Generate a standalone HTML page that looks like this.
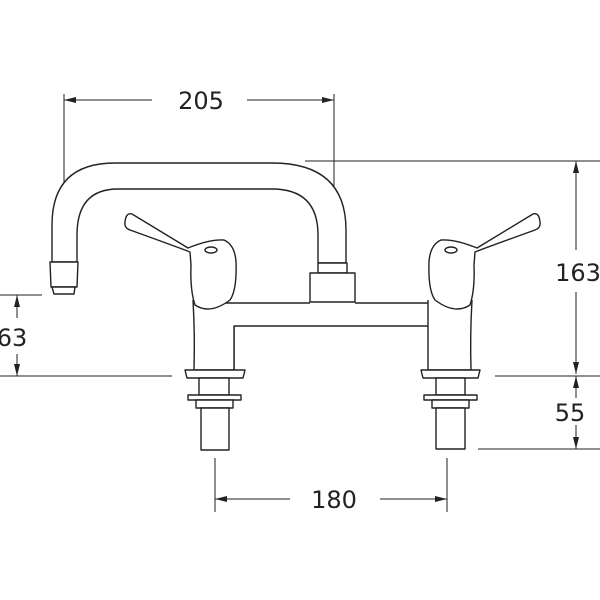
<!DOCTYPE html>
<html><head><style>body{margin:0;background:#fff}svg{display:block}text{font-family:"DejaVu Sans","Liberation Sans",sans-serif;font-size:24px;fill:#222}</style></head>
<body>
<svg width="600" height="600" viewBox="0 0 600 600" xmlns="http://www.w3.org/2000/svg">
<defs><marker id="a" markerWidth="12" markerHeight="6" refX="12" refY="3" orient="auto-start-reverse" markerUnits="userSpaceOnUse"><path d="M0,0 L12,3 L0,6z" fill="#222"/></marker></defs>
<g stroke="#222" stroke-width="1" fill="none">
<!-- dims -->
<line x1="64" y1="94" x2="64" y2="250"/><line x1="334" y1="94" x2="334" y2="250"/>
<line x1="64" y1="100" x2="152" y2="100" marker-start="url(#a)"/><line x1="247" y1="100" x2="334" y2="100" marker-end="url(#a)"/>
<line x1="305" y1="161" x2="600" y2="161"/>
<line x1="576" y1="161" x2="576" y2="250" marker-start="url(#a)"/><line x1="576" y1="292" x2="576" y2="374" marker-end="url(#a)"/>
<line x1="495" y1="376" x2="600" y2="376"/><line x1="478" y1="449" x2="600" y2="449"/>
<line x1="576" y1="376" x2="576" y2="398" marker-start="url(#a)"/><line x1="576" y1="425" x2="576" y2="449" marker-end="url(#a)"/>
<line x1="0" y1="295" x2="42" y2="295"/><line x1="0" y1="376" x2="172" y2="376"/>
<line x1="17" y1="295" x2="17" y2="318" marker-start="url(#a)"/><line x1="17" y1="354" x2="17" y2="376" marker-end="url(#a)"/>
<line x1="215" y1="458" x2="215" y2="512"/><line x1="447" y1="458" x2="447" y2="512"/>
<line x1="215" y1="499" x2="290" y2="499" marker-start="url(#a)"/><line x1="380" y1="499" x2="447" y2="499" marker-end="url(#a)"/>
</g>
<text x="201" y="109" text-anchor="middle">205</text>
<text x="578" y="281" text-anchor="middle">163</text>
<text x="570" y="421" text-anchor="middle">55</text>
<text x="12" y="346" text-anchor="middle">63</text>
<text x="334" y="508" text-anchor="middle">180</text>
<g stroke="#222" stroke-width="1.4" fill="#fff" stroke-linejoin="round">
<!-- spout -->
<path d="M52,262 L52,225 Q52,163 115,163 L272,163 Q346,163 346,230 L346,263 L318,263 L318,235 Q318,189 272,189 L118,189 Q77,189 77,235 L77,262 Z"/>
<path d="M50,262 L78,262 L77,287 L51,287 Z"/>
<path d="M52,287 L75,287 L74,294 L54,294 Z"/>
<rect x="318" y="263" width="29" height="10"/>
<rect x="310" y="273" width="45" height="29"/>
<!-- bridge -->
<path d="M193,303 L310,303 M355,303 L430,303"/>
<path d="M234,370 L234,326 L430,326"/>
<!-- left body -->
<path d="M193,300 Q195,335 194,370 L234,370 L234,326"/>
<path d="M125,222 Q126,212 132,214 L188,248 Q210,239 224,240 Q235,245 236,262 Q237,290 230,300 Q210,315 195,305 Q190,290 191,265 L190,252 Q180,248 130,230 Q124,228 125,222 Z"/>
<ellipse cx="211" cy="250" rx="6" ry="3"/>
<path d="M185,370 L245,370 L243,378 L187,378 Z"/>
<rect x="199" y="378" width="30" height="17"/>
<rect x="188" y="395" width="53" height="5"/>
<rect x="196" y="400" width="37" height="8"/>
<rect x="201" y="408" width="28" height="42"/>
<!-- right body -->
<path d="M472,300 Q470,335 471,370 L428,370 L428,300"/>
<path d="M540,222 Q539,212 533,214 L477,248 Q455,239 441,240 Q430,245 429,262 Q428,290 435,300 Q455,315 470,305 Q475,290 474,265 L475,252 Q485,248 535,230 Q541,228 540,222 Z"/>
<ellipse cx="451" cy="250" rx="6" ry="3"/>
<path d="M421,370 L480,370 L478,378 L423,378 Z"/>
<rect x="436" y="378" width="29" height="17"/>
<rect x="424" y="395" width="53" height="5"/>
<rect x="432" y="400" width="37" height="8"/>
<rect x="436" y="408" width="29" height="41"/>
</g>
</svg>
</body></html>
